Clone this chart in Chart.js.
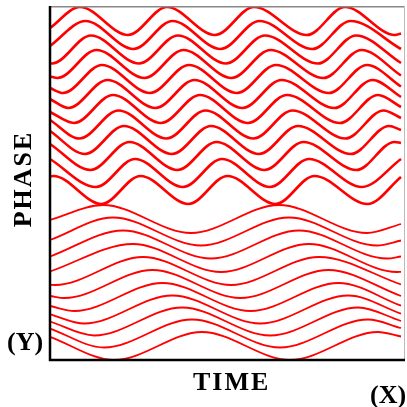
<!DOCTYPE html>
<html>
<head>
<meta charset="utf-8">
<script src="https://cdn.jsdelivr.net/npm/chart.js@4.4.0/dist/chart.umd.min.js"></script>
<style>
    body { margin: 0; background: #ffffff; }
    #wrap { position: relative; width: 407px; height: 407px; }
    .lbl {
        position: absolute;
        font-family: "Liberation Serif", "DejaVu Serif", serif;
        font-weight: bold;
        font-size: 26px;
        line-height: 26px;
        letter-spacing: 2px;
        color: #000000;
        white-space: nowrap;
    }
</style>
</head>
<body>
<div id="wrap">
    <canvas id="phase-canvas"></canvas>
    <div class="lbl" id="lbl-phase" style="left:23px; top:179px; transform: translate(-50%, -50%) rotate(-90deg);">PHASE</div>
    <div class="lbl" style="left:7px; top:329px; letter-spacing:0;">(Y)</div>
    <div class="lbl" style="left:193px; top:369px;">TIME</div>
    <div class="lbl" style="left:370px; top:382px; letter-spacing:0;">(X)</div>
</div>
<script>
// Curves as [time, phase] points at their turning points
// (pixel units of the original plot; phase axis runs downward)

// upper family: fast wave, ~4 cycles
const top0 = [[50, 28], [80, 7], [128, 35], [167, 7], [215, 35], [254, 7], [307, 35], [345, 7], [395, 35], [401, 33.5]];
const top1 = [[50, 46], [85.5, 21], [133.5, 49], [172.5, 21], [220.5, 49], [259.5, 21], [312.5, 49], [350.5, 21], [401, 49]];
const top2 = [[50, 63.4], [52, 63.5], [91, 35.5], [139, 63.5], [178, 35.5], [226, 63.5], [265, 35.5], [318, 63.5], [356, 35.5], [401, 63]];
const top3 = [[50, 76.5], [57.5, 78], [96.5, 50], [144.5, 78], [183.5, 50], [231.5, 78], [270.5, 50], [323.5, 78], [361.5, 50], [401, 75.5]];
const top4 = [[50, 88], [63, 93], [102, 65], [150, 93], [189, 65], [237, 93], [276, 65], [329, 93], [367, 65], [401, 86.5]];
const top5 = [[50, 99], [68.5, 108], [107.5, 80], [155.5, 108], [194.5, 80], [242.5, 108], [281.5, 80], [334.5, 108], [372.5, 80], [401, 97]];
const top6 = [[50, 112], [74, 123], [113, 95], [161, 123], [200, 95], [248, 123], [287, 95], [340, 123], [378, 95], [401, 107]];
const top7 = [[50, 120], [79.5, 138.5], [118.5, 110.5], [166.5, 138.5], [205.5, 110.5], [253.5, 138.5], [292.5, 110.5], [345.5, 138.5], [383.5, 110.5], [401, 118]];
const top8 = [[50, 131], [85, 154], [124, 126], [172, 154], [211, 126], [259, 154], [298, 126], [351, 154], [389, 126], [401, 130]];
const top9 = [[50, 144], [90.5, 170], [129.5, 142], [177.5, 170], [216.5, 142], [264.5, 170], [303.5, 142], [356.5, 170], [394.5, 142], [401, 143]];
const top10 = [[50, 159], [96, 187], [135, 159], [183, 187], [222, 159], [270, 187], [309, 159], [362, 187], [401, 159]];
const top11 = [[50, 176.5], [53.5, 176], [101.5, 204], [140.5, 176], [188.5, 204], [227.5, 176], [275.5, 204], [314.5, 176], [367.5, 204], [401, 177]];

// lower family: slow wave, ~2 cycles
const bot0 = [[50, 220], [103, 205], [191, 233], [279, 205], [367, 233], [401, 224]];
const bot1 = [[50, 240], [113, 217.5], [201, 245.5], [289, 217.5], [377, 245.5], [401, 240.5]];
const bot2 = [[50, 256.5], [123, 230.5], [211, 258.5], [299, 230.5], [387, 258.5], [401, 256.5]];
const bot3 = [[50, 271.5], [133, 244], [221, 272], [309, 244], [397, 272], [401, 271.8]];
const bot4 = [[50, 284.8], [55, 285], [143, 257], [231, 285], [319, 257], [401, 284.5]];
const bot5 = [[50, 296], [64.5, 298], [152.5, 270], [240.5, 298], [328.5, 270], [401, 296]];
const bot6 = [[50, 306], [74.5, 311], [162.5, 283], [250.5, 311], [338.5, 283], [401, 305.7]];
const bot7 = [[50, 314.3], [84.3, 323.5], [172.3, 295.5], [260.3, 323.5], [348.3, 295.5], [401, 313.7]];
const bot8 = [[50, 321.5], [94.2, 335.5], [182.2, 307.5], [270.2, 335.5], [358.2, 307.5], [401, 321]];
const bot9 = [[50, 328.6], [104, 347.5], [192, 319.5], [280, 347.5], [368, 319.5], [401, 328]];
const bot10 = [[50, 336.8], [114, 360], [202, 332], [290, 360], [378, 332], [401, 336.5]];

const topFamily = [top0, top1, top2, top3, top4, top5, top6, top7, top8, top9, top10, top11];
const bottomFamily = [bot0, bot1, bot2, bot3, bot4, bot5, bot6, bot7, bot8, bot9, bot10];

const timeRange = [49, 405];
const phaseRange = [6, 361];

function toDataset(points, width) {
    return {
        data: points.map(p => ({ x: p[0], y: p[1] })),
        borderColor: '#ff0000',
        borderWidth: width,
        pointRadius: 0,
        fill: false,
        cubicInterpolationMode: 'monotone'
    };
}

// box round the plot: black left/bottom, grey top/right
const framePlugin = {
    id: 'frame',
    afterDatasetsDraw(chart) {
        const a = chart.chartArea;
        const ctx = chart.ctx;
        ctx.save();
        ctx.strokeStyle = '#888888';
        ctx.lineWidth = 1.5;
        ctx.beginPath();
        ctx.moveTo(a.left, a.top + 0.75);
        ctx.lineTo(a.right, a.top + 0.75);
        ctx.stroke();
        ctx.strokeStyle = '#bbbbbb';
        ctx.lineWidth = 1;
        ctx.beginPath();
        ctx.moveTo(a.right - 0.5, a.top);
        ctx.lineTo(a.right - 0.5, a.bottom);
        ctx.stroke();
        ctx.strokeStyle = '#000000';
        ctx.lineWidth = 2.5;
        ctx.beginPath();
        ctx.moveTo(a.left + 1, a.top);
        ctx.lineTo(a.left + 1, a.bottom - 1);
        ctx.lineTo(a.right, a.bottom - 1);
        ctx.stroke();
        ctx.restore();
    }
};

const datasets = [];
topFamily.forEach(c => datasets.push(toDataset(c, 2.6)));
bottomFamily.forEach(c => datasets.push(toDataset(c, 1.8)));

new Chart(document.getElementById('phase-canvas'), {
    type: 'line',
    data: { datasets: datasets },
    options: {
        responsive: true,
        maintainAspectRatio: false,
        animation: false,
        layout: { padding: { left: 49, top: 6, right: 2, bottom: 46 } },
        plugins: {
            legend: { display: false },
            tooltip: { enabled: false }
        },
        scales: {
            x: { type: 'linear', display: false, min: timeRange[0], max: timeRange[1] },
            y: { type: 'linear', display: false, reverse: true, min: phaseRange[0], max: phaseRange[1] }
        }
    },
    plugins: [framePlugin]
});
</script>
</body>
</html>
